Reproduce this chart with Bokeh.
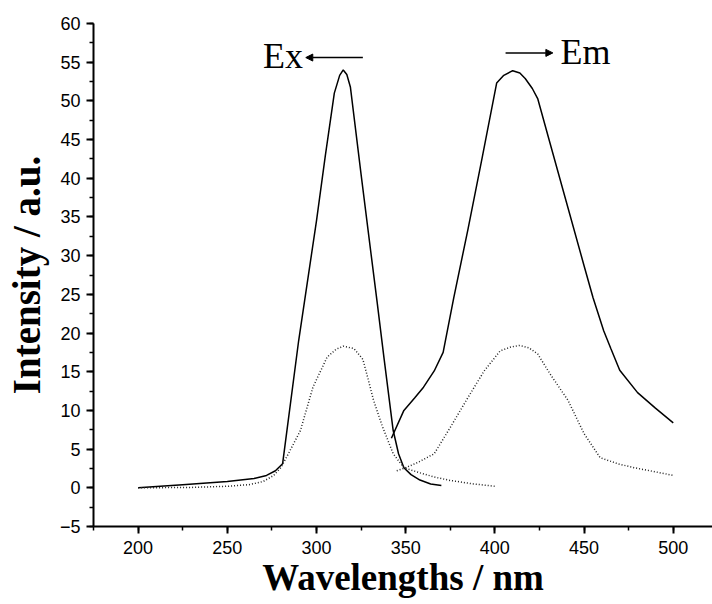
from bokeh.plotting import figure
from bokeh.models import (Range1d, SingleIntervalTicker, Arrow, NormalHead, Label)
from bokeh.embed import file_html
from bokeh.resources import INLINE

# ---- data ----
ex_solid_wl = [200, 225, 250, 265, 272, 277, 281, 290, 300, 305, 310, 313, 315, 317, 319,
               325, 330, 334, 338, 343, 346, 349, 353, 358, 364, 370]
ex_solid_int = [0.0, 0.4, 0.8, 1.2, 1.6, 2.2, 3.1, 19.0, 34.5, 43.0, 51.0, 53.3, 54.0, 53.4, 51.8,
                40.5, 31.3, 24.0, 16.5, 7.4, 4.4, 2.6, 1.7, 1.0, 0.5, 0.3]

ex_dot_wl = [200, 230, 250, 262, 270, 276, 280, 284, 291, 298, 306, 311, 315, 321, 326,
             329, 332, 337, 343, 349, 357, 366, 375, 388, 400]
ex_dot_int = [0.0, 0.05, 0.2, 0.4, 0.8, 1.6, 2.6, 4.3, 7.4, 13.0, 16.9, 17.9, 18.3, 18.0, 16.6,
              14.0, 11.3, 7.9, 4.4, 2.6, 2.0, 1.4, 0.95, 0.5, 0.2]

em_solid_wl = [342, 349, 355, 360, 366, 371, 377, 385, 393, 401, 405, 410, 414, 417, 421, 424,
               430, 440, 450, 455, 461, 465, 470, 480, 490, 500]
em_solid_int = [6.4, 10.0, 11.6, 13.0, 15.1, 17.5, 24.6, 33.5, 42.8, 52.3, 53.3, 53.9, 53.6, 52.9,
                51.6, 50.3, 45.3, 37.0, 28.7, 24.6, 20.3, 18.0, 15.2, 12.3, 10.3, 8.4]

em_dot_wl = [345, 350, 357, 366, 375, 385, 394, 403, 409, 414, 419, 424, 431, 441, 450, 459,
             469, 478, 487, 500]
em_dot_int = [2.2, 2.6, 3.3, 4.4, 7.8, 11.7, 15.1, 17.7, 18.2, 18.4, 18.1, 17.3, 14.7, 11.3, 7.0,
              3.9, 3.1, 2.6, 2.2, 1.6]

x_label = "Wavelengths / nm"
y_label = "Intensity / a.u."

p = figure(width=712, height=604, output_backend="svg", toolbar_location=None,
           x_range=Range1d(175, 522), y_range=Range1d(-5, 60),
           min_border_left=93, min_border_top=23, min_border_bottom=78, min_border_right=0)

p.outline_line_color = None
p.grid.visible = False
p.background_fill_color = "white"
p.border_fill_color = "white"

p.line(ex_solid_wl, ex_solid_int, line_color="black", line_width=1.5)
p.line(em_solid_wl, em_solid_int, line_color="black", line_width=1.5)
p.line(ex_dot_wl, ex_dot_int, line_color="#222222", line_width=1.5, line_dash="1 2")
p.line(em_dot_wl, em_dot_int, line_color="#222222", line_width=1.5, line_dash="1 2")

p.xaxis.ticker = SingleIntervalTicker(interval=50, num_minor_ticks=2)
p.yaxis.ticker = SingleIntervalTicker(interval=5, num_minor_ticks=2)

for ax in (p.xaxis[0], p.yaxis[0]):
    ax.axis_line_width = 2
    ax.axis_line_color = "black"
    ax.major_tick_line_width = 2
    ax.minor_tick_line_width = 1.5
    ax.major_tick_in = 0
    ax.major_tick_out = 7
    ax.minor_tick_in = 0
    ax.minor_tick_out = 4
    ax.major_label_text_font = "Liberation Sans"
    ax.major_label_text_font_size = "18px"
    ax.major_label_text_color = "black"
    ax.axis_label_text_font = "Liberation Serif"
    ax.axis_label_text_font_style = "bold"
    ax.axis_label_text_color = "black"

p.xaxis.axis_label = x_label
p.yaxis.axis_label = y_label
p.xaxis.axis_label_text_font_size = "37px"
p.yaxis.axis_label_text_font_size = "39px"
p.xaxis.major_label_standoff = 7
p.yaxis.major_label_standoff = 6
p.xaxis.axis_label_standoff = 0
p.yaxis.axis_label_standoff = 9

# annotations
p.add_layout(Arrow(end=NormalHead(size=7, fill_color="black", line_color="black"),
                   x_start=326, y_start=55.6, x_end=294, y_end=55.6,
                   line_color="black", line_width=1.5))
p.add_layout(Arrow(end=NormalHead(size=7, fill_color="black", line_color="black"),
                   x_start=406, y_start=56.2, x_end=432.5, y_end=56.2,
                   line_color="black", line_width=1.5))
p.add_layout(Label(x=292.4, y=55.8, text="Ex", text_align="right", text_baseline="middle",
                   text_font="Liberation Serif", text_font_size="36px", text_color="black"))
p.add_layout(Label(x=436.8, y=56.3, text="Em", text_align="left", text_baseline="middle",
                   text_font="Liberation Serif", text_font_size="36px", text_color="black"))

open("out.html", "w").write(file_html(p, INLINE))
